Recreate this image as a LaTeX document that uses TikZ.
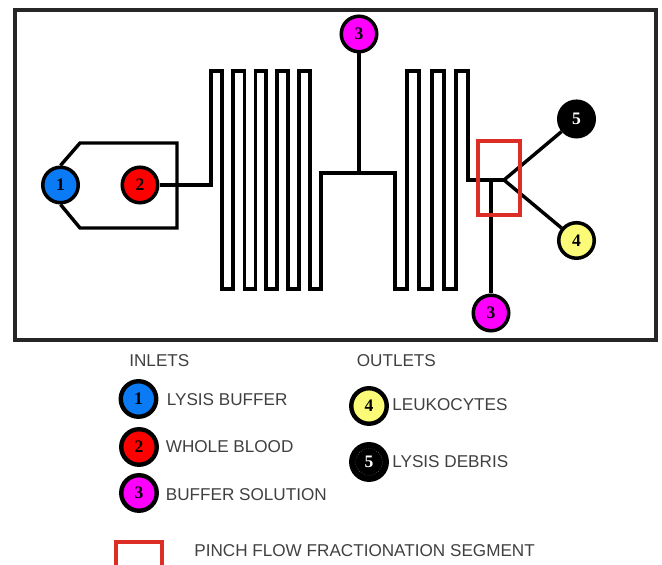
\documentclass[tikz,border=0pt]{standalone}
\usepackage{fontspec}
\setmainfont{Liberation Sans}
\newfontfamily\portfont{Liberation Serif}
\definecolor{lysisblue}{HTML}{0A7BF5}
\definecolor{bloodred}{HTML}{FF0000}
\definecolor{buffermag}{HTML}{FF00FF}
\definecolor{leukoyellow}{HTML}{FBFB78}
\definecolor{segred}{HTML}{DD2E26}
\definecolor{labelgray}{HTML}{404040}
\tikzset{
	port/.style={circle, draw=black, line width=2pt, minimum size=0.71cm, inner sep=0pt, font=\portfont\fontsize{10}{10}\selectfont\bfseries},
	legendport/.style={port, line width=2.5pt},
	channel/.style={draw=black, line width=1.95pt, line join=miter},
	segbox/.style={draw=segred, line width=1.8pt},
	legendtext/.style={anchor=west, inner sep=0pt, text=labelgray, font=\fontsize{9.75}{10}\selectfont}
}

\begin{document}
\begin{tikzpicture}

	\useasboundingbox (0,0) rectangle (13.24,11.3);

	\draw[draw=black!85, line width=1.9pt] (0.3,4.5) rectangle (13.12,11.1);

	\node (in1)[port, fill=lysisblue] at (1.21,7.6) {1};
	\node (in2)[port, fill=bloodred] at (2.8,7.6) {2};
	\node (in3a)[port, fill=buffermag] at (7.18,10.62) {3};
	\node (in3b)[port, fill=buffermag] at (9.82,5.04) {3};
	\node (out5)[port, fill=black, text=white] at (11.53,8.92) {5};
	\node (out4)[port, fill=leukoyellow] at (11.53,6.49) {4};

	\coordinate (top3) at (7.18,7.84);
	\coordinate (tee) at (9.82,7.7);
	\coordinate (junc) at (10.08,7.7);

	\draw[channel] (in1.north) -- (1.6,8.44) -- (3.54,8.44) -- (3.54,6.74) -- (1.6,6.74) -- (in1.south);
	\draw[channel] (in2) -- (4.22,7.6) -- (4.22,9.88) -- (4.44,9.88) -- (4.44,5.52) -- (4.66,5.52) -- (4.66,9.88) -- (4.89,9.88) -- (4.89,5.52) -- (5.11,5.52) -- (5.11,9.88) -- (5.32,9.88) -- (5.32,5.52) -- (5.54,5.52) -- (5.54,9.88) -- (5.76,9.88) -- (5.76,5.52) -- (5.98,5.52) -- (5.98,9.88) -- (6.2,9.88) -- (6.2,5.52) -- (6.42,5.52) -- (6.42,7.84) -- (top3) -- (7.9,7.84) -- (7.9,5.52) -- (8.14,5.52) -- (8.14,9.88) -- (8.38,9.88) -- (8.38,5.52) -- (8.64,5.52) -- (8.64,9.88) -- (8.88,9.88) -- (8.88,5.52) -- (9.12,5.52) -- (9.12,9.88) -- (9.36,9.88) -- (9.36,7.7) -- (tee) -- (junc);
	\draw[channel] (in3a) -- (top3);
	\draw[channel] (in3b) -- (tee);
	\draw[channel] (junc) -- (out5);
	\draw[channel] (junc) -- (out4);

	\draw[segbox] (9.56,7) rectangle (10.4,8.48);

	\node (inlets)[legendtext] at (2.58,4.08) {INLETS};
	\node (outlets)[legendtext] at (7.13,4.08) {OUTLETS};

	\node (leg1)[legendport, fill=lysisblue] at (2.77,3.32) {1};
	\node (leg2)[legendport, fill=bloodred] at (2.78,2.36) {2};
	\node (leg3)[legendport, fill=buffermag] at (2.78,1.44) {3};
	\node (leg4)[legendport, fill=leukoyellow] at (7.38,3.18) {4};
	\node (leg5)[legendport, fill=black, text=white] at (7.38,2.06) {5};
	\draw[draw=white, line width=0.2pt, densely dotted] (leg5.center) circle (0.27);

	\node (txt1)[legendtext] at (3.33,3.31) {LYSIS BUFFER};
	\node (txt2)[legendtext] at (3.31,2.36) {WHOLE BLOOD};
	\node (txt3)[legendtext] at (3.31,1.4) {BUFFER SOLUTION};
	\node (txt4)[legendtext] at (7.84,3.2) {LEUKOCYTES};
	\node (txt5)[legendtext] at (7.84,2.06) {LYSIS DEBRIS};

	\draw[segbox] (2.32,0) |- (3.24,0.46) -- (3.24,0);
	\node (txt6)[legendtext] at (3.88,0.28) {PINCH FLOW FRACTIONATION SEGMENT};

\end{tikzpicture}
\end{document}
